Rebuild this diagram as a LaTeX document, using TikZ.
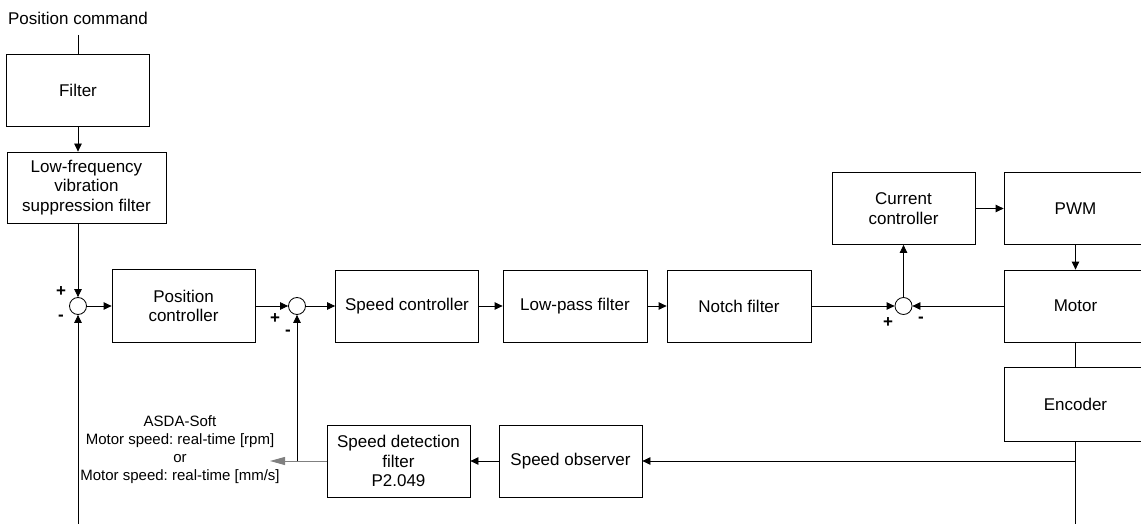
\documentclass[tikz,border=0pt]{standalone}
\usepackage{fontspec}
\setmainfont{Liberation Sans}
\usetikzlibrary{arrows.meta}
\frenchspacing
\begin{document}
\begin{tikzpicture}[x=1pt,y=-1pt,
  font=\fontsize{17}{19.5}\selectfont,
  blk/.style={draw, line width=0.8pt, minimum width=143pt, minimum height=72pt, align=center, inner sep=0pt},
  sumc/.style={draw, circle, minimum size=17pt, inner sep=0pt, line width=0.8pt},
  conn/.style={line width=0.8pt, -{Triangle[length=8pt,width=7.5pt]}},
  gconn/.style={line width=1pt, draw=gray, -{Triangle[length=15pt,width=8pt]}},
  ln/.style={line width=0.8pt},
  sgn/.style={font=\fontsize{17}{18}\selectfont\bfseries, inner sep=0pt}]
\useasboundingbox (0,0) rectangle (1141,524);
% nodes
\node (cmd) at (78,18) {Position command};
\coordinate (c0) at (78,35);
\node[blk] (filt) at (78,90) {Filter};
\node[blk, minimum width=159pt, minimum height=71pt] (lvf) at (86.5,187.5) {Low-frequency\\vibration\\suppression filter};
\node[sumc] (s1) at (78,306) {};
\node[blk, minimum height=73pt] (pc) at (183.5,306) {Position\\controller};
\node[sumc] (s2) at (297,306) {};
\node[blk] (sc) at (407,306) {Speed controller};
\node[blk, minimum width=144pt] (lp) at (575,306) {Low-pass filter};
\node[blk, minimum width=144pt] (nf) at (739,306) {Notch filter};
\node[sumc] (s3) at (903.5,306) {};
\node[blk] (cc) at (903.5,208.5) {Current\\controller};
\node[blk] (pwm) at (1075.5,208.5) {PWM};
\node[blk] (mot) at (1075.5,306) {Motor};
\node[blk, minimum height=74pt] (enc) at (1075.5,404.5) {Encoder};
\node[blk] (so) at (570.5,461) {Speed observer};
\node[blk] (sdf) at (398.5,461) {Speed detection\\filter\\P2.049};
\node[font=\fontsize{15}{18}\selectfont, align=center] (asda) at (180,450) {ASDA-Soft\\Motor speed: real-time [rpm]\\or\\Motor speed: real-time [mm/s]};
% signs
\node[sgn] (p1) at (61,292) {+};
\node[sgn] (m1) at (61,318) {-};
\node[sgn] (p2) at (275,319) {+};
\node[sgn] (m2) at (288,333) {-};
\node[sgn] (p3) at (888,323) {+};
\node[sgn] (m3) at (921,320) {-};
% coordinates
\coordinate (j) at (297,461);
\coordinate (gtip) at (270,461);
\coordinate (lb) at (78,530);
\coordinate (rb) at (1075.5,530);
\coordinate (br) at (1075.5,461);
% connectors
\draw[ln] (c0) -- (filt.north);
\draw[conn] (filt.south) -- (filt.south |- lvf.north);
\draw[conn] (s1.north |- lvf.south) -- (s1.north);
\draw[conn] (s1.east) -- (pc.west);
\draw[conn] (pc.east) -- (s2.west);
\draw[conn] (s2.east) -- (sc.west);
\draw[conn] (sc.east) -- (lp.west);
\draw[conn] (lp.east) -- (nf.west);
\draw[conn] (nf.east) -- (s3.west);
\draw[conn] (mot.west) -- (s3.east);
\draw[conn] (s3.north) -- (cc.south);
\draw[conn] (cc.east) -- (pwm.west);
\draw[conn] (pwm.south) -- (mot.north);
\draw[ln] (mot.south) -- (enc.north);
\draw[ln] (enc.south) -- (rb);
\draw[conn] (br) -- (so.east);
\draw[conn] (so.west) -- (sdf.east);
\draw[gconn] (sdf.west) -- (gtip);
\draw[conn] (j) -- (s2.south);
\draw[conn] (lb) -- (s1.south);
\end{tikzpicture}
\end{document}
